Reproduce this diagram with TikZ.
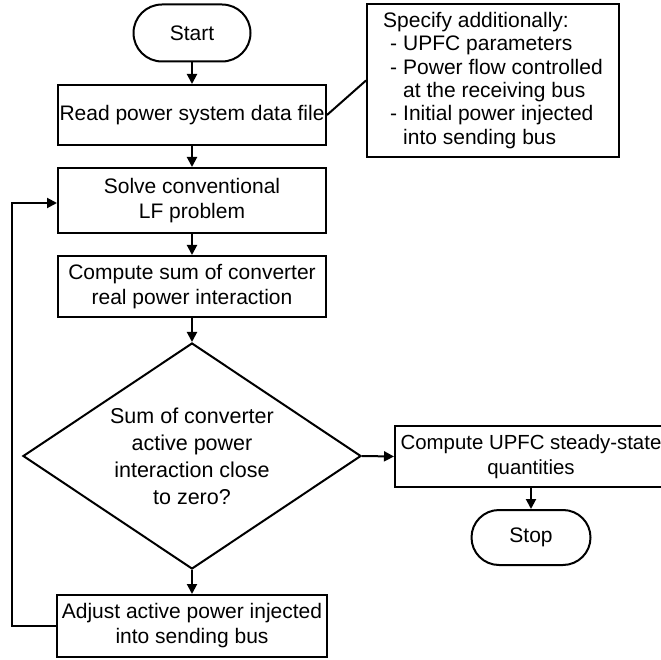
\documentclass[tikz,border=0pt]{standalone}
\usepackage{fontspec}
\setmainfont{Liberation Sans}
\usetikzlibrary{shapes.geometric,shapes.misc,arrows.meta}
\newcommand\itm{\hspace*{7pt}\makebox[13pt][l]{-}}
\newcommand\ind{\hspace*{20pt}}
\tikzset{
  box/.style={draw,line width=2pt,rectangle,inner sep=0pt,align=center,font=\fontsize{21}{25}\selectfont},
  term/.style={draw,line width=2pt,rounded rectangle,inner sep=0pt,font=\fontsize{21}{25}\selectfont},
  dec/.style={draw,line width=2pt,diamond,aspect=1.5,inner sep=0pt,align=center,font=\fontsize{21.5}{27}\selectfont},
  arr/.style={line width=2pt,-{Triangle[length=10pt,width=10pt]}},
  link/.style={line width=2pt}
}
\begin{document}
\begin{tikzpicture}[x=1pt,y=-1pt]
\clip (0,0) rectangle (661,660);
\fill[white] (0,0) rectangle (661,660);
\node[term,minimum width=117pt,minimum height=57pt] (start) at (192,33) {Start};
\node[box,minimum width=268pt,minimum height=60pt] (read) at (192,115) {Read power system data file};
\node[box,minimum width=268pt,minimum height=65pt] (solve) at (192,200.5) {Solve conventional\\LF problem};
\node[box,minimum width=268pt,minimum height=61pt] (compute) at (192,286.5) {Compute sum of converter\\real power interaction};
\node[dec,minimum width=338pt,minimum height=226pt] (dia) at (192,456) {Sum of converter\\active power\\interaction close\\to zero?};
\node[box,minimum width=270pt,minimum height=62pt] (adjust) at (192,626) {Adjust active power injected\\into sending bus};
\node[box,minimum width=252pt,minimum height=153pt,align=left,font=\fontsize{21}{23.3}\selectfont] (note) at (493,80.5) {Specify additionally:\\\itm UPFC parameters\\\itm Power flow controlled\\\ind at the receiving bus\\\itm Initial power injected\\\ind into sending bus};
\node[box,minimum width=272pt,minimum height=61pt,font=\fontsize{20.4}{25}\selectfont] (upfc) at (531,456.5) {Compute UPFC steady-state\\quantities};
\node[term,minimum width=119pt,minimum height=55pt] (stop) at (531,537.5) {Stop};
\coordinate (fb) at (12,626);
\draw[arr] (start) -- (read);
\draw[arr] (read) -- (solve);
\draw[arr] (solve) -- (compute);
\draw[arr] (compute) -- (dia);
\draw[arr] (dia) -- (adjust);
\draw[arr] (dia.east) -- (upfc.west);
\draw[arr] (upfc) -- (stop);
\draw[link] (read.east) -- (note.west);
\draw[arr] (adjust.west) -- (fb) |- ([yshift=-2.5pt]solve.west);
\end{tikzpicture}
\end{document}
